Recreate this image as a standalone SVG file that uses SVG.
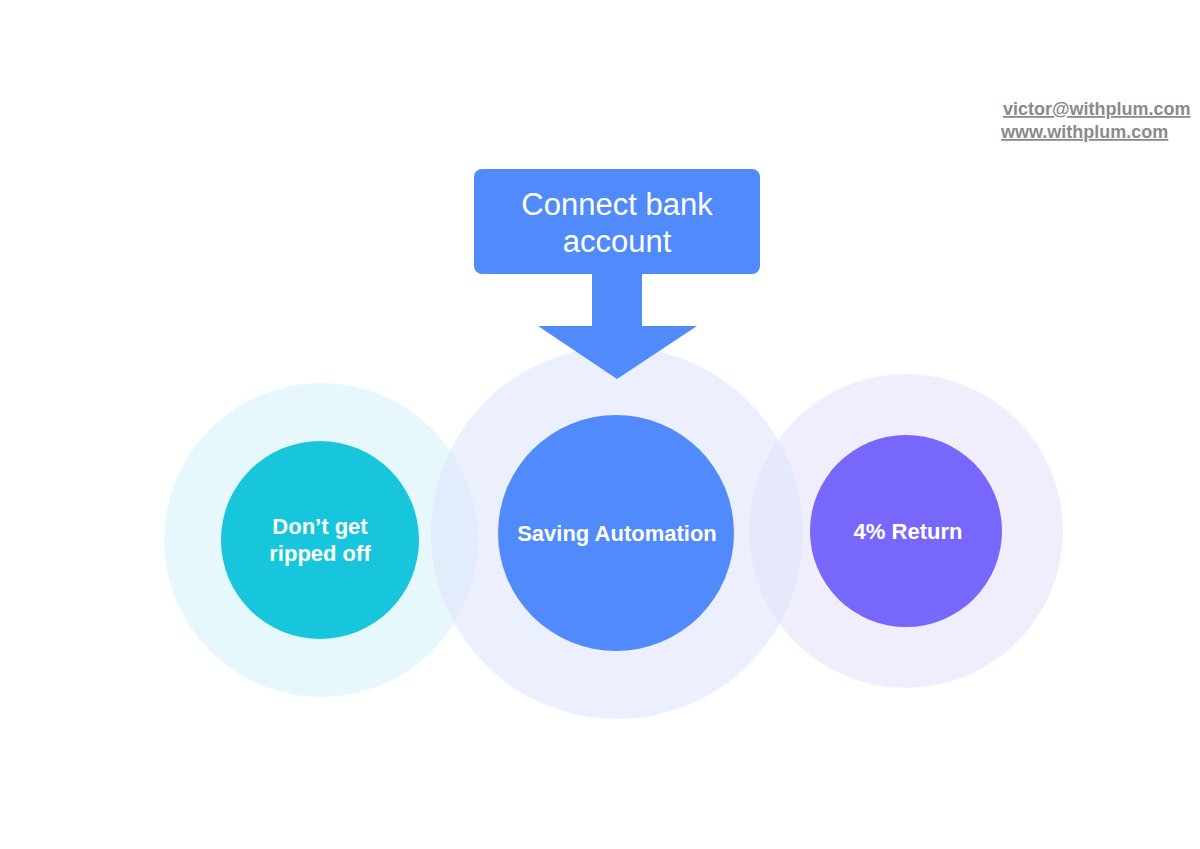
<svg xmlns="http://www.w3.org/2000/svg" width="1200" height="849" viewBox="0 0 1200 849">
<style>
.t{font-family:"Liberation Sans",Arial,sans-serif;fill:#fff;text-anchor:middle}
.b{font-weight:bold;font-size:22px}
.l{font-family:"Liberation Sans",Arial,sans-serif;fill:#8a8a8a;font-weight:bold;font-size:18px;text-decoration:underline}
</style>
<rect width="1200" height="849" fill="#fff"/>
<text class="l" x="1003" y="115">victor@withplum.com</text>
<text class="l" x="1001" y="138">www.withplum.com</text>
<g id="halos">
<circle cx="321" cy="540" r="157" fill="#d6f3f8" opacity="0.6"/>
<circle cx="906" cy="531" r="157" fill="#e6e3fb" opacity="0.6"/>
<circle cx="617" cy="533" r="186" fill="#dfe5fb" opacity="0.6"/>
</g>
<g id="node-left"><circle cx="320" cy="540" r="99" fill="#17c6dc"/>
<text class="t b" x="320" y="534">Don’t get</text><text class="t b" x="320" y="561">ripped off</text></g>
<g id="node-center"><circle cx="616" cy="533" r="118" fill="#518bfb"/>
<text class="t b" x="617" y="541">Saving Automation</text></g>
<g id="node-right"><circle cx="906" cy="531" r="96" fill="#7867fb"/>
<text class="t b" x="908" y="539">4% Return</text></g>
<g id="node-top"><rect x="474" y="169" width="286" height="105" rx="8" fill="#518bfb"/>
<text class="t" x="617" y="215" font-size="31">Connect bank</text>
<text class="t" x="617" y="252" font-size="31">account</text></g>
<g id="connectors"><polygon points="592,272 642,272 642,326 697,326 617,379 538,326 592,326" fill="#518bfb"/></g>
</svg>
